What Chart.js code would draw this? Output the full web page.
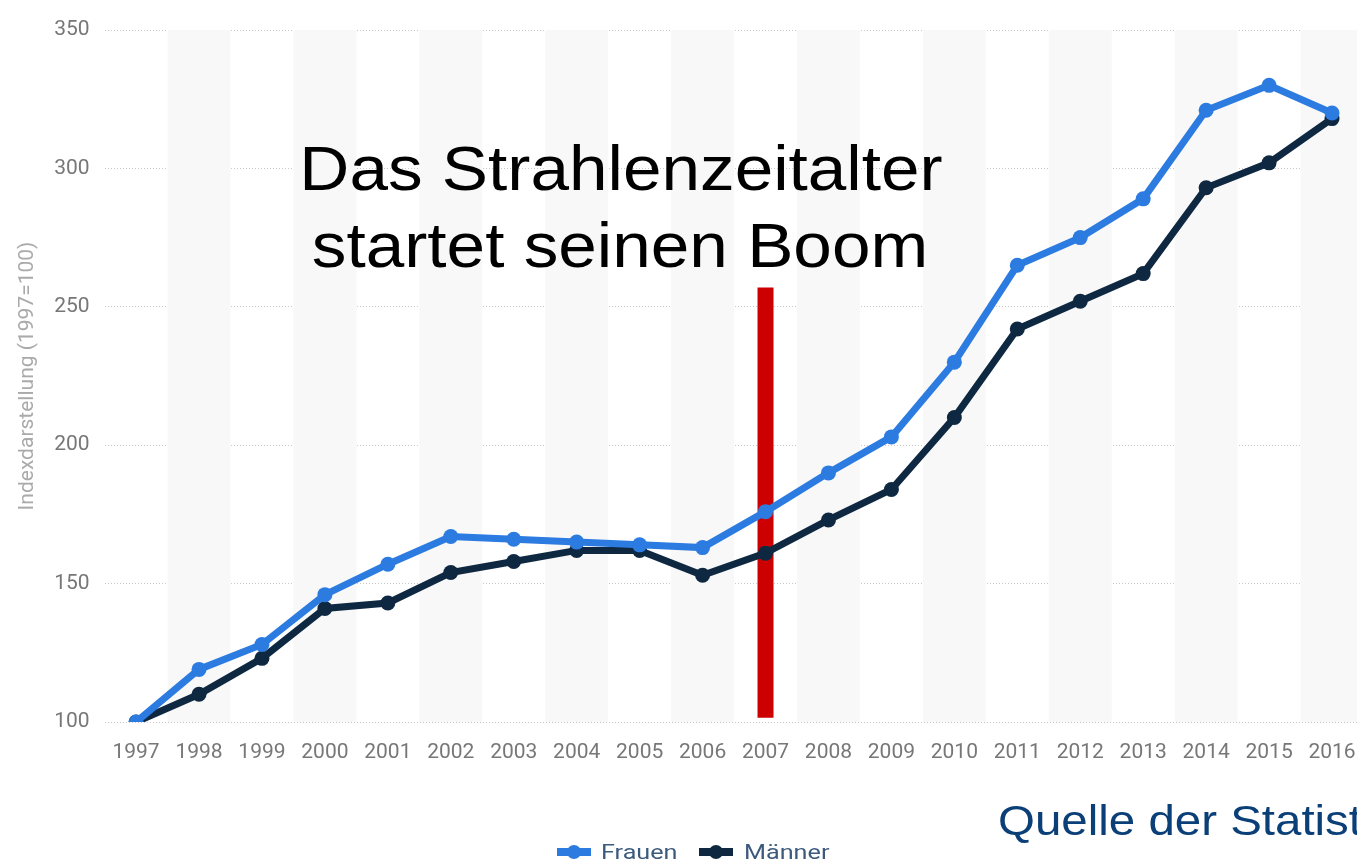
<!DOCTYPE html>
<html>
<head>
<meta charset="utf-8">
<script src="https://cdn.jsdelivr.net/npm/chart.js@4/dist/chart.umd.min.js"></script>
<style>
  html, body { margin: 0; padding: 0; background: #fff; overflow: hidden; }
  canvas { display: block; }
</style>
</head>
<body>
<canvas id="chart" width="1371" height="862"></canvas>
<script>
// Jahre (x-Achse)
var years = ["1997", "1998", "1999", "2000", "2001", "2002", "2003", "2004", "2005", "2006",
             "2007", "2008", "2009", "2010", "2011", "2012", "2013", "2014", "2015", "2016"];
// Indexwerte (1997=100)
var frauen = [100, 119, 128, 146, 157, 167, 166, 165, 164, 163,
              176, 190, 203, 230, 265, 275, 289, 321, 330, 320];
var maenner = [100, 110, 123, 141, 143, 154, 158, 162, 162, 153,
               161, 173, 184, 210, 242, 252, 262, 293, 302, 318];
// roter Balken bei 2007
var markerYear = "2007";
var markerRange = [101.5, 257];
var yTicks = [100, 150, 200, 250, 300, 350];

var seriesNames = ["Frauen", "Männer"];
var seriesColors = ["#2b7be0", "#0f2842"];

// abwechselnde Hintergrundstreifen
var bandPlugin = {
    id: "bands",
    beforeDatasetsDraw: function(chart) {
        var ctx = chart.ctx, x = chart.scales.x, area = chart.chartArea;
        var w = x.getPixelForValue(1) - x.getPixelForValue(0);
        ctx.save();
        ctx.fillStyle = "#f8f8f8";
        for (var i = 1; i < years.length; i += 2) {
            var c = x.getPixelForValue(i);
            ctx.fillRect(c - w / 2, area.top, w, area.bottom - area.top);
        }
        ctx.restore();
    }
};

// Text horizontal gestreckt zeichnen (Vorlage ist in die Breite gezogen)
function stretchText(ctx, txt, x, y, sx, align) {
    ctx.save();
    ctx.translate(x, y);
    ctx.scale(sx, 1);
    ctx.textAlign = align;
    ctx.fillText(txt, 0, 0);
    ctx.restore();
}

// Texte und Legende
var textPlugin = {
    id: "texts",
    afterDraw: function(chart) {
        var ctx = chart.ctx;
        ctx.save();
        ctx.textBaseline = "alphabetic";
        ctx.fillStyle = "#000";
        ctx.font = "63px 'Liberation Sans', Arial, sans-serif";
        stretchText(ctx, "Das Strahlenzeitalter", 621, 190, 1.1, "center");
        stretchText(ctx, "startet seinen Boom", 620, 267, 1.1, "center");

        ctx.fillStyle = "#0b3f77";
        ctx.font = "42px 'Liberation Sans', Arial, sans-serif";
        stretchText(ctx, "Quelle der Statistik", 998, 835, 1.13, "left");

        // Legende
        var items = [{x: 574, tx: 601}, {x: 716, tx: 744}];
        ctx.font = "20px Roboto, 'Liberation Sans', sans-serif";
        for (var i = 0; i < 2; i++) {
            ctx.fillStyle = seriesColors[i];
            ctx.fillRect(items[i].x - 17, 848, 34, 8);
            ctx.beginPath();
            ctx.arc(items[i].x, 852, 7, 0, Math.PI * 2);
            ctx.fill();
            ctx.fillStyle = "#3c5a7d";
            stretchText(ctx, seriesNames[i], items[i].tx, 859, 1.26, "left");
        }
        ctx.restore();
    }
};

new Chart(document.getElementById("chart"), {
    type: "line",
    data: {
        labels: years,
        datasets: [{
            label: seriesNames[0],
            data: frauen,
            borderColor: seriesColors[0],
            backgroundColor: seriesColors[0],
            borderWidth: 7,
            pointRadius: 7.5,
            pointBorderWidth: 0,
            tension: 0
        }, {
            label: seriesNames[1],
            data: maenner,
            borderColor: seriesColors[1],
            backgroundColor: seriesColors[1],
            borderWidth: 7,
            pointRadius: 7.5,
            pointBorderWidth: 0,
            tension: 0
        }, {
            label: "marker",
            data: [{x: markerYear, y: markerRange[0]}, {x: markerYear, y: markerRange[1]}],
            borderColor: "#cc0000",
            borderWidth: 16,
            borderCapStyle: "butt",
            pointRadius: 0
        }]
    },
    options: {
        responsive: false,
        animation: false,
        layout: { padding: { top: 30, left: 0, right: 0, bottom: 0 } },
        plugins: {
            legend: { display: false },
            tooltip: { enabled: false }
        },
        scales: {
            x: {
                type: "category",
                offset: true,
                grid: { display: false },
                border: { display: false },
                ticks: {
                    color: "#777",
                    font: { family: "Roboto, 'Liberation Sans', sans-serif", size: 21 },
                    padding: 10,
                    maxRotation: 0,
                    autoSkip: false
                },
                afterFit: function(s) {
                    s.height = 140;
                    s.paddingLeft = 0;
                    s.paddingRight = 0;
                }
            },
            y: {
                min: 100,
                max: 350,
                afterBuildTicks: function(s) {
                    s.ticks = yTicks.map(function(v) { return {value: v}; });
                },
                grid: {
                    color: "#c8c8c8",
                    lineWidth: 1,
                    drawTicks: false
                },
                border: { display: false, dash: [1, 2] },
                ticks: {
                    color: "#777",
                    font: { family: "Roboto, 'Liberation Sans', sans-serif", size: 21 },
                    padding: 15
                },
                title: {
                    display: true,
                    text: "Indexdarstellung (1997=100)",
                    color: "#aaa",
                    font: { family: "Roboto, 'Liberation Sans', sans-serif", size: 21 },
                    padding: { top: 15, bottom: 0 }
                },
                afterFit: function(s) {
                    s.width = 104.6;
                    s.paddingTop = 0;
                    s.paddingBottom = 0;
                }
            }
        }
    },
    plugins: [bandPlugin, textPlugin]
});
</script>
</body>
</html>
